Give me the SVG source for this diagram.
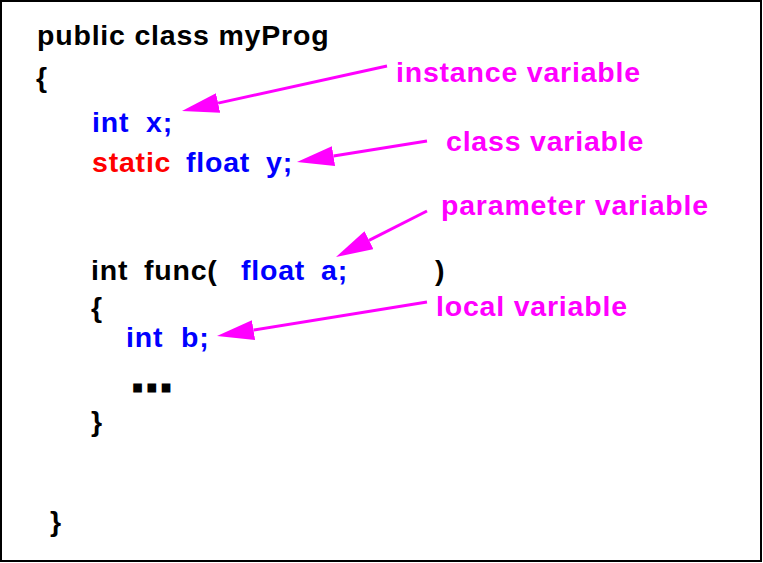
<svg xmlns="http://www.w3.org/2000/svg" width="763" height="563" viewBox="0 0 763 563">
  <style>
    text { font-family: "Liberation Sans", Arial, sans-serif; font-weight: bold; font-size: 28.5px; letter-spacing: 0.8px; }
    .k { fill: #000000; }
    .b { fill: #0000ff; }
    .r { fill: #ff0000; }
    .m { fill: #ff00ff; }
    .dots { font-size: 40px; letter-spacing: 3.2px; stroke: #000000; stroke-width: 3; stroke-linejoin: miter; }
    .arrow { stroke: #ff00ff; stroke-width: 3; fill: none; marker-end: url(#head); }
  </style>
  <defs>
    <marker id="head" markerUnits="userSpaceOnUse" orient="auto" viewBox="0 0 37 20" refX="0" refY="10" markerWidth="37" markerHeight="20">
      <path d="M0,0 L37,10 L0,20 Z" fill="#ff00ff"/>
    </marker>
  </defs>

  <rect x="1" y="1" width="760" height="560" fill="#ffffff" stroke="#000000" stroke-width="2"/>

  <!-- source listing -->
  <g id="code">
    <text class="k" x="37" y="45">public class myProg</text>
    <text class="k" x="36" y="87">{</text>

    <text class="b" x="92" y="132">int</text>
    <text class="b" x="146" y="132">x;</text>

    <text class="r" x="92" y="172">static</text>
    <text class="b" x="186" y="172">float</text>
    <text class="b" x="266" y="172">y;</text>

    <text class="k" x="91" y="280">int</text>
    <text class="k" x="144" y="280">func(</text>
    <text class="b" x="241" y="280">float</text>
    <text class="b" x="321" y="280">a;</text>
    <text class="k" x="435" y="280">)</text>

    <text class="k" x="91" y="317">{</text>
    <text class="b" x="126" y="347">int</text>
    <text class="b" x="181" y="347">b;</text>
    <text class="k dots" x="131.9" y="390.5">...</text>
    <text class="k" x="91" y="431">}</text>

    <text class="k" x="50" y="531">}</text>
  </g>

  <!-- annotation labels -->
  <g id="label-instance"><text class="m" x="396" y="82">instance variable</text></g>
  <g id="label-class"><text class="m" x="446" y="151">class variable</text></g>
  <g id="label-parameter"><text class="m" x="441" y="215">parameter variable</text></g>
  <g id="label-local"><text class="m" x="436" y="316">local variable</text></g>

  <!-- pointers from labels to declarations -->
  <g id="connectors">
    <line class="arrow" x1="387" y1="66" x2="218.1" y2="103.1"/>
    <line class="arrow" x1="427" y1="141" x2="333.5" y2="156.1"/>
    <line class="arrow" x1="427" y1="211" x2="369" y2="240.3"/>
    <line class="arrow" x1="427" y1="302" x2="253.5" y2="330.1"/>
  </g>
</svg>
